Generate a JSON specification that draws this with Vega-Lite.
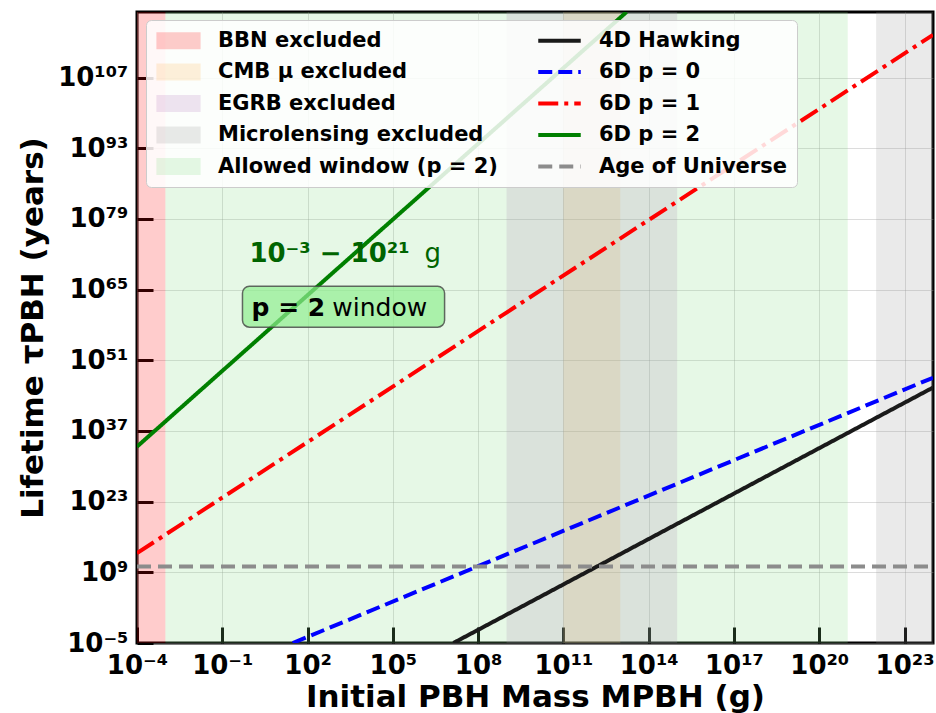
{
  "$schema": "https://vega.github.io/schema/vega-lite/v6.json",
  "width": 796,
  "height": 631,
  "autosize": {"type": "none"},
  "padding": {"left": 137, "top": 12, "right": 3, "bottom": 70},
  "background": "white",
  "config": {
    "font": "DejaVu Sans",
    "view": {"stroke": "black", "strokeWidth": 3},
    "axis": {
      "domain": false,
      "grid": true,
      "gridColor": "#9a9a9a",
      "gridOpacity": 0.35,
      "gridWidth": 1,
      "ticks": true,
      "tickSize": -16,
      "tickWidth": 3,
      "tickColor": "black",
      "labelFont": "DejaVu Sans",
      "labelFontSize": 26,
      "labelFontWeight": "bold",
      "labelColor": "black",
      "labelPadding": 25,
      "labelOverlap": false,
      "labelFlush": false,
      "titleFont": "DejaVu Sans",
      "titleFontSize": 31,
      "titleFontWeight": "bold",
      "titleColor": "black"
    },
    "legend": {
      "orient": "none",
      "legendX": 9,
      "legendY": 8,
      "columns": 2,
      "direction": "vertical",
      "title": null,
      "fillColor": "rgba(255,255,255,0.85)",
      "strokeColor": "#cccccc",
      "cornerRadius": 5,
      "padding": 10,
      "labelFont": "DejaVu Sans",
      "labelFontSize": 21,
      "labelFontWeight": "bold",
      "labelColor": "black",
      "labelLimit": 400,
      "labelOffset": 29,
      "symbolSize": 289,
      "symbolOffset": 12,
      "rowPadding": 9.5,
      "columnPadding": 32
    }
  },
  "datasets": {
    "regions": [
      {"cat": "BBN excluded", "x1": 1e-4, "x2": 1e-3},
      {"cat": "CMB μ excluded", "x1": 1e11, "x2": 1e13},
      {"cat": "EGRB excluded", "x1": 1e9, "x2": 1e15},
      {"cat": "Microlensing excluded", "x1": 1e22, "x2": 1e24},
      {"cat": "Allowed window (p = 2)", "x1": 1e-3, "x2": 1e21}
    ],
    "lines": [
      {"cat": "4D Hawking", "M": 1.35e7, "tau": 1e-5},
      {"cat": "4D Hawking", "M": 1e24, "tau": 3.98e45},
      {"cat": "6D p = 0", "M": 30.1, "tau": 1e-5},
      {"cat": "6D p = 0", "M": 1e24, "tau": 3.55e47},
      {"cat": "6D p = 1", "M": 1e-4, "tau": 6.3e12},
      {"cat": "6D p = 1", "M": 1e24, "tau": 2.95e115},
      {"cat": "6D p = 2", "M": 1e-4, "tau": 7.94e33},
      {"cat": "6D p = 2", "M": 1.66e13, "tau": 1e120},
      {"cat": "Age of Universe", "M": 1e-4, "tau": 1.38e10},
      {"cat": "Age of Universe", "M": 1e24, "tau": 1.38e10}
    ],
    "box": [
      {"x1": 0.513, "x2": 6.6e6, "y1": 3.7e57, "y2": 4.9e65}
    ],
    "boldgreen": [{"text": "10⁻³ − 10²¹", "M": 0.9, "tau": 2.8e70}],
    "reggreen": [{"text": "g", "M": 1.3e6, "tau": 2.8e70}],
    "boldblack": [{"text": "p = 2", "M": 1.07, "tau": 5.6e59}],
    "regblack": [{"text": "window", "M": 741, "tau": 5.6e59}]
  },
  "layer": [
    {
      "data": {"name": "regions"},
      "mark": {"type": "rect", "opacity": 0.2, "clip": true},
      "encoding": {
        "x": {
          "field": "x1", "type": "quantitative",
          "scale": {"type": "log", "domain": [1e-4, 1e24], "nice": false},
          "axis": {
            "values": [1e-4, 1e-1, 1e2, 1e5, 1e8, 1e11, 1e14, 1e17, 1e20, 1e23],
            "labelExpr": "'10' + replace(replace(replace(replace(replace(replace(replace(replace(replace(replace(replace(toString(round(log(datum.value)/LN10)), regexp('-','g'), '⁻'), regexp('0','g'), '⁰'), regexp('1','g'), '¹'), regexp('2','g'), '²'), regexp('3','g'), '³'), regexp('4','g'), '⁴'), regexp('5','g'), '⁵'), regexp('6','g'), '⁶'), regexp('7','g'), '⁷'), regexp('8','g'), '⁸'), regexp('9','g'), '⁹')",
            "title": "Initial PBH Mass MPBH (g)",
            "titlePadding": 4
          }
        },
        "x2": {"field": "x2"},
        "color": {
          "field": "cat", "type": "nominal",
          "scale": {
            "domain": ["BBN excluded", "CMB μ excluded", "EGRB excluded", "Microlensing excluded", "Allowed window (p = 2)", "4D Hawking", "6D p = 0", "6D p = 1", "6D p = 2", "Age of Universe"],
            "range": ["#ff0000", "#ffb450", "#b478be", "#969696", "#82dc82", "#1a1a1a", "#0000ff", "#ff0000", "#008000", "#8c8c8c"]
          },
          "legend": {
            "encode": {
              "symbols": {
                "enter": {
                  "shape": {"signal": "indexof(['BBN excluded','CMB μ excluded','EGRB excluded','Microlensing excluded','Allowed window (p = 2)'], datum.value) >= 0 ? 'M-2.6,-1H2.6V1H-2.6Z' : 'M-2.5,0H2.5'"}
                },
                "update": {
                  "shape": {"signal": "indexof(['BBN excluded','CMB μ excluded','EGRB excluded','Microlensing excluded','Allowed window (p = 2)'], datum.value) >= 0 ? 'M-2.6,-1H2.6V1H-2.6Z' : 'M-2.5,0H2.5'"},
                  "fill": {"signal": "indexof(['BBN excluded','CMB μ excluded','EGRB excluded','Microlensing excluded','Allowed window (p = 2)'], datum.value) >= 0 ? scale('color', datum.value) : 'transparent'"},
                  "fillOpacity": {"value": 0.2},
                  "stroke": {"signal": "indexof(['BBN excluded','CMB μ excluded','EGRB excluded','Microlensing excluded','Allowed window (p = 2)'], datum.value) >= 0 ? 'transparent' : scale('color', datum.value)"},
                  "strokeOpacity": {"value": 1},
                  "strokeWidth": {"signal": "indexof(['BBN excluded','CMB μ excluded','EGRB excluded','Microlensing excluded','Allowed window (p = 2)'], datum.value) >= 0 ? 0 : 4"},
                  "strokeDash": {"signal": "datum.value == '6D p = 0' ? [14,6] : datum.value == '6D p = 1' ? [20,6,4,6] : datum.value == 'Age of Universe' ? [14,7] : [1,0]"},
                  "opacity": {"value": 1}
                }
              }
            }
          }
        }
      }
    },
    {
      "data": {"name": "lines"},
      "mark": {"type": "line", "clip": true, "strokeWidth": 4},
      "encoding": {
        "x": {"field": "M", "type": "quantitative", "scale": {"type": "log", "domain": [1e-4, 1e24], "nice": false}},
        "y": {
          "field": "tau", "type": "quantitative",
          "scale": {"type": "log", "domain": [1e-5, 1e120], "nice": false},
          "axis": {
            "values": [1e-5, 1e9, 1e23, 1e37, 1e51, 1e65, 1e79, 1e93, 1e107],
            "labelExpr": "'10' + replace(replace(replace(replace(replace(replace(replace(replace(replace(replace(replace(toString(round(log(datum.value)/LN10)), regexp('-','g'), '⁻'), regexp('0','g'), '⁰'), regexp('1','g'), '¹'), regexp('2','g'), '²'), regexp('3','g'), '³'), regexp('4','g'), '⁴'), regexp('5','g'), '⁵'), regexp('6','g'), '⁶'), regexp('7','g'), '⁷'), regexp('8','g'), '⁸'), regexp('9','g'), '⁹')",
            "title": "Lifetime τPBH (years)",
            "titlePadding": 8
          }
        },
        "color": {
          "field": "cat", "type": "nominal",
          "scale": {
            "domain": ["BBN excluded", "CMB μ excluded", "EGRB excluded", "Microlensing excluded", "Allowed window (p = 2)", "4D Hawking", "6D p = 0", "6D p = 1", "6D p = 2", "Age of Universe"],
            "range": ["#ff0000", "#ffb450", "#b478be", "#969696", "#82dc82", "#1a1a1a", "#0000ff", "#ff0000", "#008000", "#8c8c8c"]
          },
          "legend": {
            "encode": {
              "symbols": {
                "enter": {
                  "shape": {"signal": "indexof(['BBN excluded','CMB μ excluded','EGRB excluded','Microlensing excluded','Allowed window (p = 2)'], datum.value) >= 0 ? 'M-2.6,-1H2.6V1H-2.6Z' : 'M-2.5,0H2.5'"}
                },
                "update": {
                  "shape": {"signal": "indexof(['BBN excluded','CMB μ excluded','EGRB excluded','Microlensing excluded','Allowed window (p = 2)'], datum.value) >= 0 ? 'M-2.6,-1H2.6V1H-2.6Z' : 'M-2.5,0H2.5'"},
                  "fill": {"signal": "indexof(['BBN excluded','CMB μ excluded','EGRB excluded','Microlensing excluded','Allowed window (p = 2)'], datum.value) >= 0 ? scale('color', datum.value) : 'transparent'"},
                  "fillOpacity": {"value": 0.2},
                  "stroke": {"signal": "indexof(['BBN excluded','CMB μ excluded','EGRB excluded','Microlensing excluded','Allowed window (p = 2)'], datum.value) >= 0 ? 'transparent' : scale('color', datum.value)"},
                  "strokeOpacity": {"value": 1},
                  "strokeWidth": {"signal": "indexof(['BBN excluded','CMB μ excluded','EGRB excluded','Microlensing excluded','Allowed window (p = 2)'], datum.value) >= 0 ? 0 : 4"},
                  "strokeDash": {"signal": "datum.value == '6D p = 0' ? [14,6] : datum.value == '6D p = 1' ? [20,6,4,6] : datum.value == 'Age of Universe' ? [14,7] : [1,0]"},
                  "opacity": {"value": 1}
                }
              }
            }
          }
        },
        "strokeDash": {
          "field": "cat", "type": "nominal",
          "scale": {
            "domain": ["4D Hawking", "6D p = 0", "6D p = 1", "6D p = 2", "Age of Universe"],
            "range": [[1, 0], [14, 6], [20, 6, 4, 6], [1, 0], [14, 7]]
          },
          "legend": null
        }
      }
    },
    {
      "data": {"name": "box"},
      "mark": {"type": "rect", "cornerRadius": 7, "fill": "#90ee90", "fillOpacity": 0.7, "stroke": "#444444", "strokeWidth": 1.5, "strokeOpacity": 0.8},
      "encoding": {
        "x": {"field": "x1", "type": "quantitative", "scale": {"type": "log", "domain": [1e-4, 1e24], "nice": false}},
        "x2": {"field": "x2"},
        "y": {"field": "y1", "type": "quantitative", "scale": {"type": "log", "domain": [1e-5, 1e120], "nice": false}},
        "y2": {"field": "y2"}
      }
    },
    {
      "data": {"name": "boldgreen"},
      "mark": {"type": "text", "align": "left", "baseline": "alphabetic", "font": "DejaVu Sans", "fontSize": 26, "fontWeight": "bold", "color": "#006400"},
      "encoding": {
        "x": {"field": "M", "type": "quantitative", "scale": {"type": "log", "domain": [1e-4, 1e24], "nice": false}},
        "y": {"field": "tau", "type": "quantitative", "scale": {"type": "log", "domain": [1e-5, 1e120], "nice": false}},
        "text": {"field": "text"}
      }
    },
    {
      "data": {"name": "reggreen"},
      "mark": {"type": "text", "align": "left", "baseline": "alphabetic", "font": "DejaVu Sans", "fontSize": 26, "fontWeight": "normal", "color": "#006400"},
      "encoding": {
        "x": {"field": "M", "type": "quantitative", "scale": {"type": "log", "domain": [1e-4, 1e24], "nice": false}},
        "y": {"field": "tau", "type": "quantitative", "scale": {"type": "log", "domain": [1e-5, 1e120], "nice": false}},
        "text": {"field": "text"}
      }
    },
    {
      "data": {"name": "boldblack"},
      "mark": {"type": "text", "align": "left", "baseline": "alphabetic", "font": "DejaVu Sans", "fontSize": 25, "fontWeight": "bold", "color": "black"},
      "encoding": {
        "x": {"field": "M", "type": "quantitative", "scale": {"type": "log", "domain": [1e-4, 1e24], "nice": false}},
        "y": {"field": "tau", "type": "quantitative", "scale": {"type": "log", "domain": [1e-5, 1e120], "nice": false}},
        "text": {"field": "text"}
      }
    },
    {
      "data": {"name": "regblack"},
      "mark": {"type": "text", "align": "left", "baseline": "alphabetic", "font": "DejaVu Sans", "fontSize": 25, "fontWeight": "normal", "color": "black"},
      "encoding": {
        "x": {"field": "M", "type": "quantitative", "scale": {"type": "log", "domain": [1e-4, 1e24], "nice": false}},
        "y": {"field": "tau", "type": "quantitative", "scale": {"type": "log", "domain": [1e-5, 1e120], "nice": false}},
        "text": {"field": "text"}
      }
    }
  ]
}
